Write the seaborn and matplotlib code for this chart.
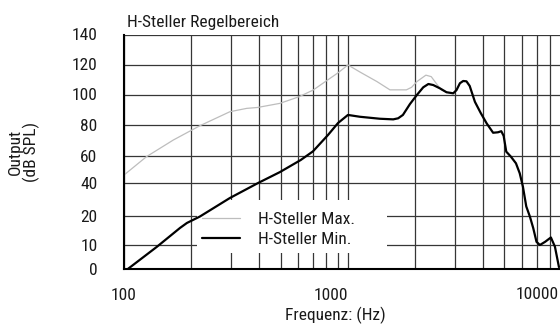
import numpy as np
import pandas as pd
import seaborn as sns
import matplotlib
matplotlib.use("Agg")
import matplotlib.pyplot as plt
from matplotlib import font_manager
from matplotlib.patches import Rectangle
from matplotlib.ticker import FixedLocator, NullFormatter

# ---------------- data ----------------
freq_max = [100, 126, 166, 218, 297, 353, 395, 497, 604, 700, 812, 904, 1000,
            1131, 1348, 1540, 1824, 1924, 2032, 2229, 2355, 2476, 2612, 2756]
db_max = [45.9, 59.5, 70.3, 79.5, 88.7, 90.9, 91.5, 94.2, 98.5, 103, 109.7, 114.5,
          119.7, 115, 108.6, 103.1, 103.1, 104.8, 108.6, 112.9, 111.9, 107.5, 103, 101.5]

freq_min = [104, 140, 178, 191, 218, 297, 397, 497, 615, 698, 814, 903, 1000, 1131,
            1389, 1593, 1676, 1760, 1891, 2032, 2169, 2287, 2405, 2575, 2756, 2952,
            3052, 3162, 3270, 3382, 3497, 3690, 3919, 4162, 4449, 4677, 4839, 4958,
            5093, 5342, 5627, 5849, 6044, 6256, 6494, 6722, 6950, 7196, 7594, 8059,
            8400, 8755]
db_min = [0, 9.2, 15.9, 17.6, 19.8, 30.9, 40, 48.1, 57, 63, 73.5, 81.3, 86.6, 85.4,
          84.1, 83.7, 84.4, 86.6, 93.7, 99.7, 104.8, 107, 106.3, 104.1, 101.5, 100.8,
          102.9, 107.5, 109, 108.8, 105.7, 95.2, 87.8, 81.1, 75.0, 75.3, 76, 73,
          62.8, 59.5, 54.6, 47.2, 37.8, 25.8, 19.8, 15.8, 11.1, 10, 11.1, 12.6,
          9.3, 0.8]

series_names = ["H-Steller Max.", "H-Steller Min."]
y_ticks = [0, 10, 20, 40, 60, 80, 100, 120, 140]
x_major = [100, 1000]
x_minor = [200, 300, 400, 500, 600, 700, 800, 900,
           2000, 3000, 4000, 5000, 6000, 7000, 8000]
title = "H-Steller Regelbereich"
xlabel = "Frequenz: (Hz)"
ylabel = "Output\n(dB SPL)"

# non-uniform spacing of the printed y axis
y_axis_spacing = [0, 24, 53, 86, 113, 144, 174.5, 204.5, 234.5]

df = pd.concat([
    pd.DataFrame({"f": freq_max, "db": db_max, "s": series_names[0]}),
    pd.DataFrame({"f": freq_min, "db": db_min, "s": series_names[1]}),
])

# ---------------- style ----------------
sns.set_theme(style="white")
fl = font_manager.fontManager.ttflist
names = sorted({f.name for f in fl})
pref = ["Liberation Sans Narrow", "Arial Narrow", "Roboto Condensed",
        "DejaVu Sans Condensed", "Open Sans Condensed", "Noto Sans Condensed"]
fam = next((n for n in pref if n in names), None)
stretch = "normal"
if fam is None:
    cands = [n for n in names if ("Narrow" in n or "Condensed" in n)
             and "Mono" not in n and "Serif" not in n and "CJK" not in n]
    if cands:
        fam = cands[0]
if fam is None:
    cond = [f.name for f in fl if "condensed" in str(f.stretch)
            and f.style == "normal" and "Mono" not in f.name and "Serif" not in f.name
            and "CJK" not in f.name]
    if cond:
        fam = cond[0]
        stretch = "condensed"
narrow = fam is not None
if fam is None:
    fam = "Liberation Sans"
plt.rcParams["font.family"] = [fam, "DejaVu Sans"]
plt.rcParams["font.stretch"] = stretch
FS = 12.5 if narrow else 10.5

fig = plt.figure(figsize=(5.6, 3.24), dpi=100)
ax = fig.add_axes([124 / 560, (324 - 269) / 324, 436 / 560, 234.5 / 324])

def fwd(v):
    return np.interp(v, y_ticks, y_axis_spacing)

def inv(p):
    return np.interp(p, y_axis_spacing, y_ticks)

ax.set_xscale("log")
ax.set_yscale("function", functions=(fwd, inv))

sns.lineplot(data=df[df.s == series_names[0]], x="f", y="db", ax=ax,
             color="#bdbdbd", linewidth=0.9, label=series_names[0], zorder=2)
sns.lineplot(data=df[df.s == series_names[1]], x="f", y="db", ax=ax,
             color="#000000", linewidth=1.6, label=series_names[1], zorder=2.5)

ax.set_xlim(100, 8850)
ax.set_ylim(0, 140)

ax.xaxis.set_major_locator(FixedLocator(x_major))
ax.xaxis.set_minor_locator(FixedLocator(x_minor))
ax.xaxis.set_minor_formatter(NullFormatter())
ax.set_xticklabels(["100", "1000"])
ax.set_yticks(y_ticks)
ax.set_yticklabels([str(v) for v in y_ticks])
labs = ax.get_xticklabels()
labs[1].set_horizontalalignment("right")

ax.set_axisbelow(True)
ax.grid(which="both", axis="x", color="#363636", linewidth=0.9)
ax.grid(which="major", axis="y", color="#363636", linewidth=0.9)
ax.tick_params(axis="both", which="both", length=0, labelsize=FS, colors="#1a1a1a")
ax.tick_params(axis="y", pad=19)
ax.tick_params(axis="x", pad=14)

for s in ["top", "right"]:
    ax.spines[s].set_visible(False)
for s in ["left", "bottom"]:
    ax.spines[s].set_color("black")
    ax.spines[s].set_linewidth(1.5)

ax.text((559 - 124) / 436, -0.107, "10000", transform=ax.transAxes, ha="right",
        va="center", fontsize=FS, color="#1a1a1a")

ax.set_xlabel(xlabel, fontsize=FS, color="#1a1a1a")
ax.xaxis.set_label_coords(0.484, -0.163)
ax.set_ylabel(ylabel, fontsize=FS, color="#1a1a1a", linespacing=1.0)
ax.yaxis.set_label_coords(-0.193, 0.5)

ax.text(0.008, 1.032, title, transform=ax.transAxes, ha="left", va="baseline",
        fontsize=FS, color="#1a1a1a")

# white legend background that hides the grid
ax.add_patch(Rectangle(((197 - 124) / 436, (269 - 253) / 234.5), 190 / 436, 53 / 234.5,
                       transform=ax.transAxes, facecolor="white", edgecolor="none",
                       zorder=1.5))
px = FS * 100 / 72
leg = ax.legend(loc="upper left", bbox_to_anchor=((202 - 124) / 436, (269 - 212) / 234.5),
                frameon=False, fontsize=FS, borderpad=0, borderaxespad=0,
                handlelength=38 / px, handletextpad=18 / px, labelspacing=0.25)
for t in leg.get_texts():
    t.set_color("#1a1a1a")
leg.set_zorder(3)

fig.savefig("out.png", dpi=100)
